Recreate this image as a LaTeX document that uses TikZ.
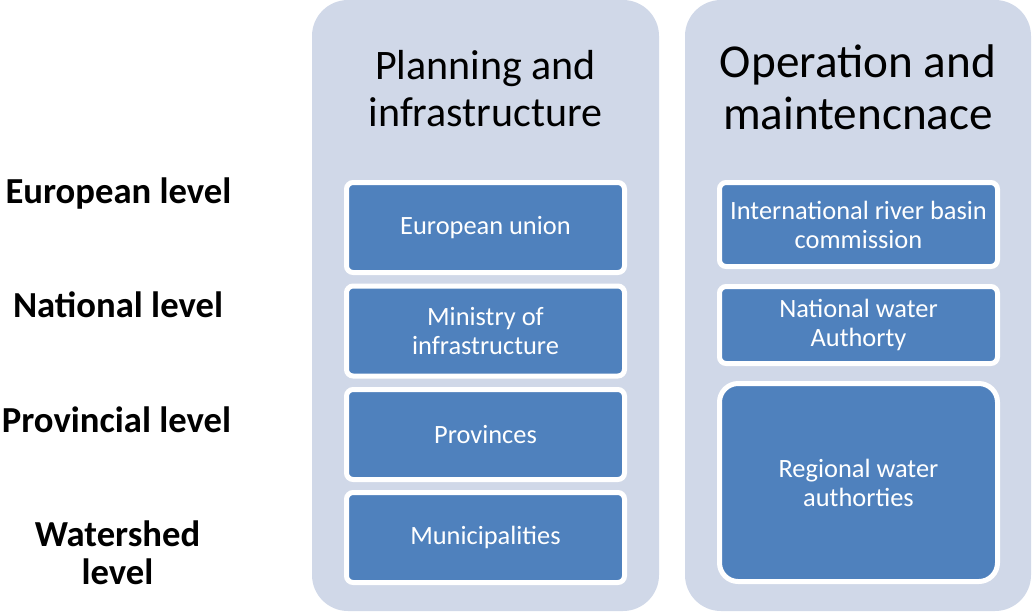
\documentclass[tikz,border=0pt]{standalone}
\usepackage{fontspec}
\setmainfont{Carlito}
\definecolor{panelgray}{RGB}{208,216,232}
\definecolor{unitblue}{RGB}{79,129,189}
\tikzset{
  panel/.style={fill=panelgray, rounded corners=27pt, minimum height=458.25pt, inner sep=0pt},
  unit/.style={fill=unitblue, draw=white, line width=3.75pt, rounded corners=5pt, minimum width=208.5pt, text=white, align=center, font=\fontsize{19.8}{21.75}\selectfont},
  level/.style={inner sep=0pt, align=center, font=\bfseries\fontsize{27.5}{28.5}\selectfont},
  title/.style={inner sep=0pt, anchor=south, align=center}
}

\begin{document}
\begin{tikzpicture}[x=0.75pt,y=0.75pt,yscale=-1,xscale=1]
\useasboundingbox (0,0) rectangle (1033,612);

%Shape: Panels
\node (planpanel) [panel, minimum width=260.25pt] at (485.5,305.5) {};
\node (operpanel) [panel, minimum width=259.5pt] at (858,305.5) {};

% Text Node
\node (plantitle) [title, font=\fontsize{31.5}{35.25}\selectfont] at (485.5,127) {Planning and\\infrastructure};
% Text Node
\node (opertitle) [title, font=\fontsize{35.4}{39}\selectfont] at (858,130) {Operation and\\maintencnace};

%Shape: Planning units
\node (eu) [unit, minimum height=67.5pt] at (485.5,227.5) {European union};
\node (ministry) [unit, minimum height=67.5pt] at (485.5,331) {Ministry of\\infrastructure};
\node (provinces) [unit, minimum height=67.5pt] at (485.5,434.5) {Provinces};
\node (municip) [unit, minimum height=67.5pt] at (485.5,537.5) {Municipalities};

%Shape: Operation units
\node (basin) [unit, minimum height=63pt] at (858.5,224.5) {International river basin\\commission};
\node (natwater) [unit, minimum height=57.75pt] at (858.5,325) {National water\\Authorty};
\node (regwater) [unit, minimum height=148.5pt, rounded corners=14pt] at (858.5,482.5) {Regional water\\authorties};

% Text Node
\node (eulevel) [level, anchor=base] at (118.5,203) {European level};
% Text Node
\node (natlevel) [level, anchor=base] at (118,317) {National level};
% Text Node
\node (provlevel) [level, anchor=base] at (116.5,432) {Provincial level};
% Text Node
\node (wslevel) [level, anchor=south] at (117.5,585) {Watershed\\level};

\end{tikzpicture}
\end{document}
